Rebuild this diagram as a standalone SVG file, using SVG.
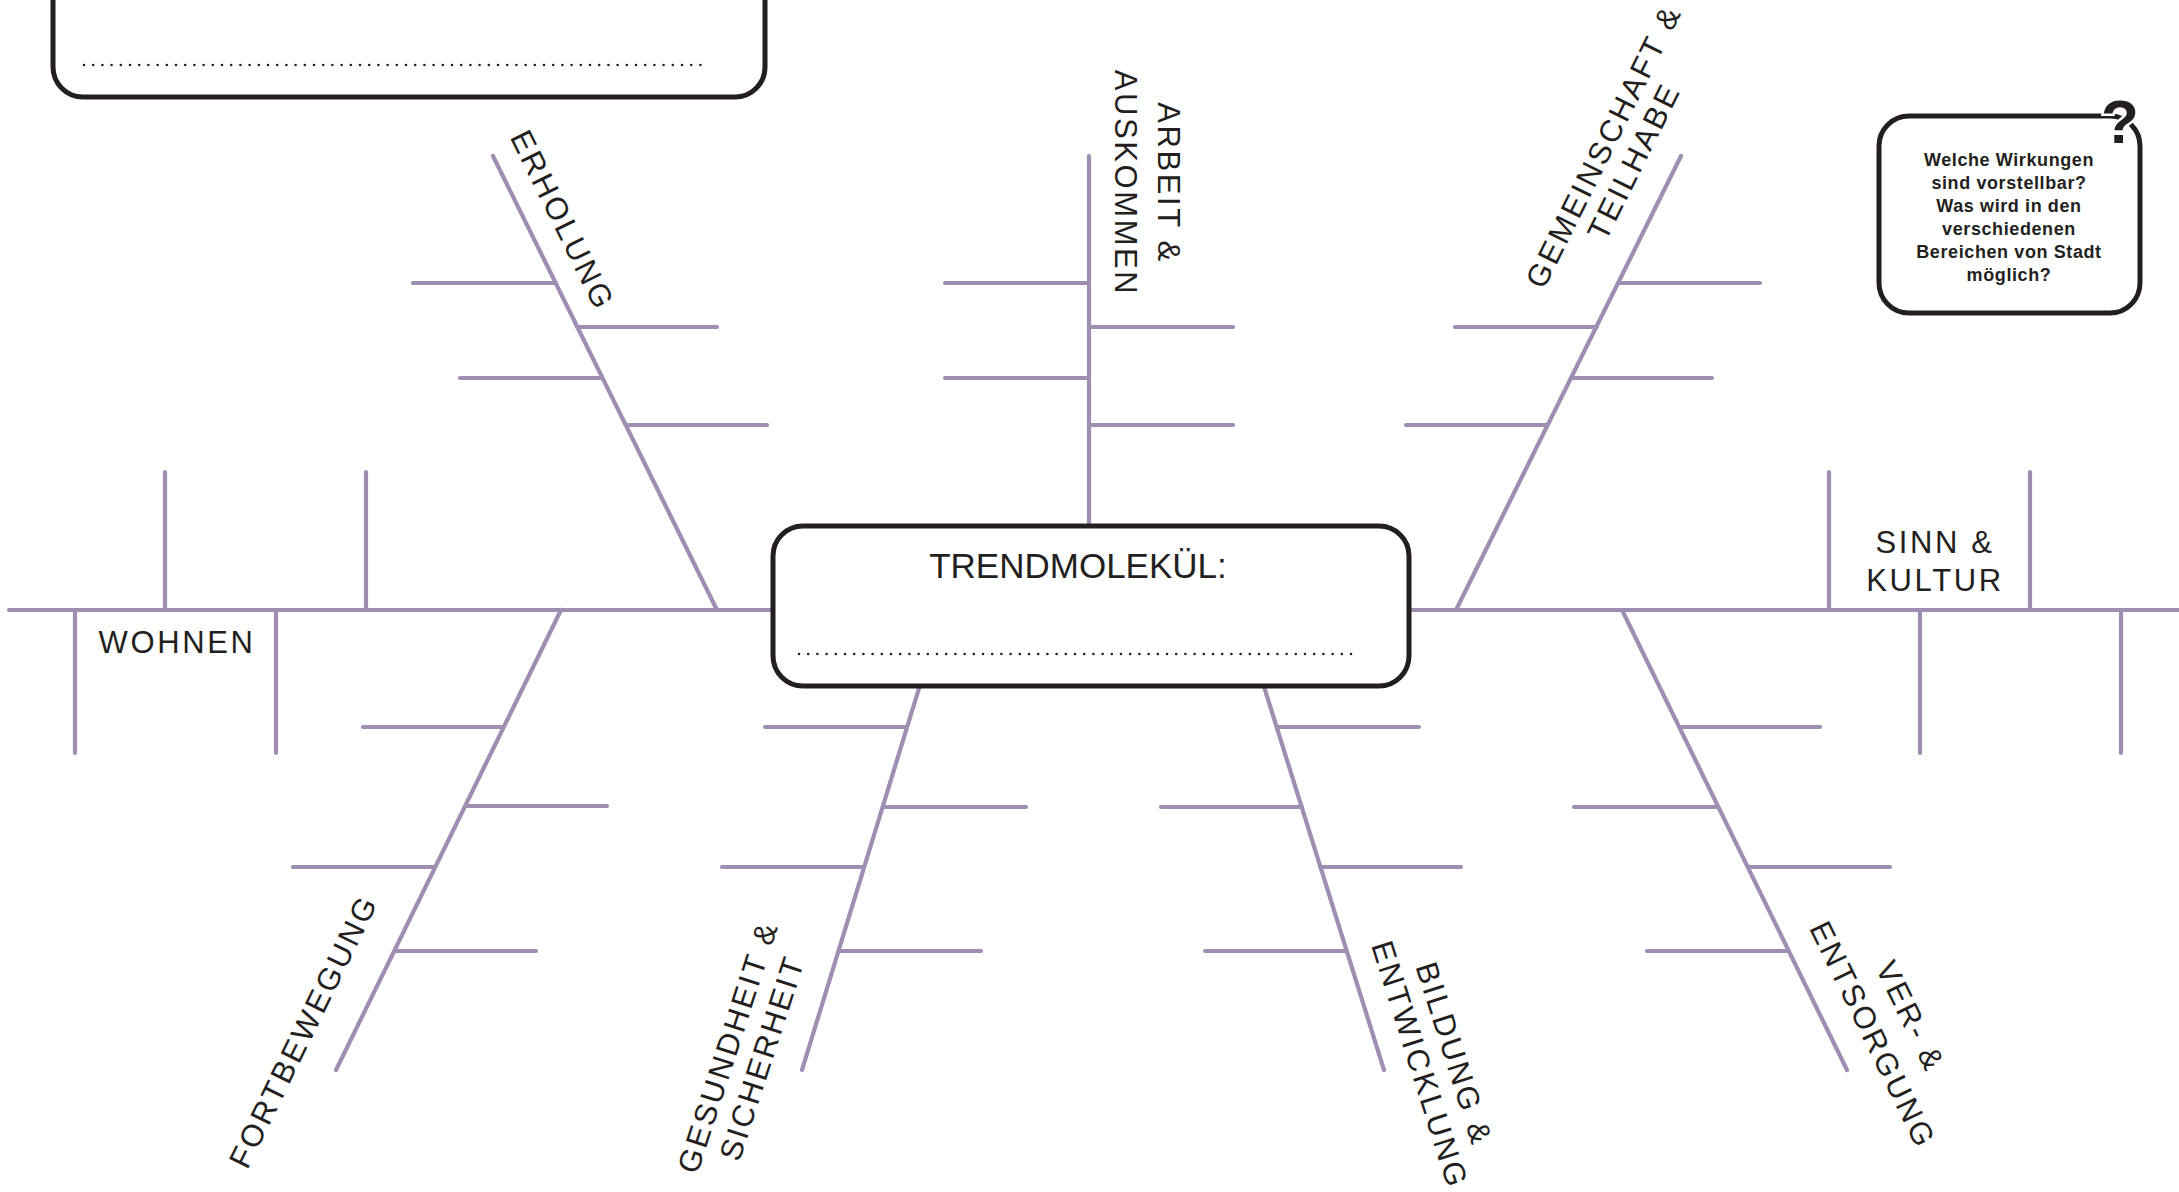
<svg xmlns="http://www.w3.org/2000/svg" width="2179" height="1192" viewBox="0 0 2179 1192">
<style>
.ln{stroke:#a08eb2;stroke-width:4.2;stroke-linecap:round;fill:none}
.box{fill:#fff;stroke:#231f20;stroke-width:5}
.dots{stroke:#231f20;stroke-width:2.6;stroke-linecap:round;stroke-dasharray:0 9.2;fill:none}
.lbl{font-family:"Liberation Sans",Arial,sans-serif;font-size:31px;letter-spacing:2.6px;fill:#231f20;text-anchor:middle}
.q{font-family:"Liberation Sans",Arial,sans-serif;font-weight:bold;font-size:18px;letter-spacing:0.6px;fill:#231f20;text-anchor:middle}
</style>
<rect width="2179" height="1192" fill="#fff"/>
<g id="connectors">
  <path class="ln" d="M9 610H2185"/>
  <!-- Erholung -->
  <path class="ln" d="M493 156L717 610M413 283H556M577 327H717M460 378H602M626 425H767"/>
  <!-- Arbeit -->
  <path class="ln" d="M1089 156V610M945 283H1089M1089 327H1233M945 378H1089M1089 425H1233"/>
  <!-- Gemeinschaft -->
  <path class="ln" d="M1681 156L1456 610M1618 283H1760M1455 327H1597M1571 378H1712M1406 425H1548"/>
  <!-- Wohnen -->
  <path class="ln" d="M165 472V610M366 472V610M75 610V753M276 610V753"/>
  <!-- Sinn -->
  <path class="ln" d="M1829 472V610M2030 472V610M1920 610V753M2121 610V753"/>
  <!-- Fortbewegung -->
  <path class="ln" d="M561 610L336 1070M363 727H504M466 806H607M293 867H435M395 951H536"/>
  <!-- Gesundheit -->
  <path class="ln" d="M943 610L802 1070M765 727H907M883 807H1026M722 867H864M839 951H981"/>
  <!-- Bildung -->
  <path class="ln" d="M1240 610L1384 1070M1277 727H1419M1161 807H1302M1320 867H1461M1205 951H1346"/>
  <!-- Ver- und Entsorgung -->
  <path class="ln" d="M1622 610L1847 1070M1679 727H1820M1574 807H1718M1748 867H1890M1647 951H1789"/>
</g>
<g id="top-left-box">
  <rect class="box" x="53" y="-80" width="712" height="177" rx="30"/>
  <path class="dots" d="M84 65H706"/>
</g>
<g id="center-box">
  <rect class="box" x="773" y="526" width="636" height="160" rx="30"/>
  <text x="1078" y="578" style="font-family:'Liberation Sans',Arial,sans-serif;font-size:35px;fill:#231f20;text-anchor:middle">TRENDMOLEKÜL:</text>
  <path class="dots" d="M799 654H1357"/>
</g>
<g id="question-box">
  <rect class="box" x="1879" y="116" width="261" height="197" rx="30" stroke-width="4.5"/>
  <text x="2120" y="143" style="font-family:'Liberation Sans',Arial,sans-serif;font-weight:bold;font-size:62px;fill:#231f20;stroke:#fff;stroke-width:5;paint-order:stroke;text-anchor:middle">?</text>
  <text class="q" x="2009" y="166">Welche Wirkungen</text>
  <text class="q" x="2009" y="189">sind vorstellbar?</text>
  <text class="q" x="2009" y="212">Was wird in den</text>
  <text class="q" x="2009" y="235">verschiedenen</text>
  <text class="q" x="2009" y="258">Bereichen von Stadt</text>
  <text class="q" x="2009" y="281">möglich?</text>
</g>
<g id="label-wohnen"><text class="lbl" x="177" y="653">WOHNEN</text></g>
<g id="label-sinn"><text class="lbl" x="1935" y="553">SINN &amp;</text><text class="lbl" x="1935" y="591">KULTUR</text></g>
<g id="label-erholung"><text class="lbl" transform="translate(553 225) rotate(63.7)">ERHOLUNG</text></g>
<g id="label-arbeit"><g transform="translate(1158 183) rotate(90)"><text class="lbl" x="0" y="0">ARBEIT &amp;</text><text class="lbl" x="0" y="43">AUSKOMMEN</text></g></g>
<g id="label-gemeinschaft"><g transform="translate(1613 151) rotate(-63.6)"><text class="lbl" x="0" y="0">GEMEINSCHAFT &amp;</text><text class="lbl" x="0" y="34">TEILHABE</text></g></g>
<g id="label-fortbewegung"><text class="lbl" transform="translate(313 1036) rotate(-63.9)">FORTBEWEGUNG</text></g>
<g id="label-gesundheit"><g transform="translate(738 1050) rotate(-72)"><text class="lbl" x="0" y="0">GESUNDHEIT &amp;</text><text class="lbl" x="0" y="36">SICHERHEIT</text></g></g>
<g id="label-bildung"><g transform="translate(1444 1057) rotate(72.5)"><text class="lbl" x="0" y="0">BILDUNG &amp;</text><text class="lbl" x="0" y="36">ENTWICKLUNG</text></g></g>
<g id="label-versorgung"><g transform="translate(1901 1021) rotate(64)"><text class="lbl" x="0" y="0">VER- &amp;</text><text class="lbl" x="0" y="42">ENTSORGUNG</text></g></g>
</svg>
